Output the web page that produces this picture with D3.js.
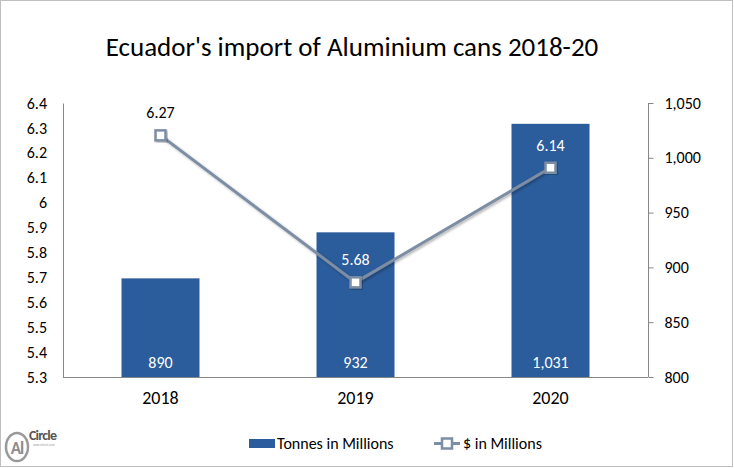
<!DOCTYPE html>
<html>
<head>
<meta charset="utf-8">
<script src="https://cdn.jsdelivr.net/npm/d3@7"></script>
<style>
  html, body { margin: 0; padding: 0; background: #fff; }
  svg { display: block; font-family: Carlito, Lato, "Open Sans", sans-serif; }
</style>
</head>
<body>
<div id="chart"></div>
<script>
// data
const years = ["2018", "2019", "2020"];
const tonnes = [890, 932, 1031];      // bars, right axis
const dollars = [6.27, 5.68, 6.14];   // line, left axis
const leftTicks = [5.3, 5.4, 5.5, 5.6, 5.7, 5.8, 5.9, 6.0, 6.1, 6.2, 6.3, 6.4];
const rightTicks = [800, 850, 900, 950, 1000, 1050];

const width = 734, height = 468;
const margin = { top: 103, right: 86, bottom: 91, left: 63 };
const barColor = "#2B5C9B";
const lineColor = "#7D8DA3";
const font = "Carlito, Lato, 'Open Sans', sans-serif";

const svg = d3.select("#chart").append("svg")
  .attr("width", width)
  .attr("height", height);

// outer border
svg.append("rect")
  .attr("x", 0.5).attr("y", 0.5)
  .attr("width", width - 2).attr("height", height - 2)
  .attr("fill", "#fff")
  .attr("stroke", "#BFBFBF");

// shadow filter for line + markers
const defs = svg.append("defs");
const f = defs.append("filter").attr("id", "shadow")
  .attr("x", "-20%").attr("y", "-20%").attr("width", "140%").attr("height", "140%");
f.append("feDropShadow").attr("dx", 1.5).attr("dy", 1.5)
  .attr("stdDeviation", 1).attr("flood-color", "#000").attr("flood-opacity", 0.3);

// title
svg.append("text")
  .attr("x", 352).attr("y", 56)
  .attr("text-anchor", "middle")
  .style("font-size", "27px")
  .style("fill", "#000")
  .text("Ecuador's import of Aluminium cans 2018-20");

// scales
const x = d3.scaleBand()
  .domain(years)
  .range([margin.left, width - margin.right])
  .paddingInner(0.6)
  .paddingOuter(0.3);

const yLeft = d3.scaleLinear()
  .domain([5.3, 6.4])
  .range([height - margin.bottom, margin.top]);

const yRight = d3.scaleLinear()
  .domain([800, 1050])
  .range([height - margin.bottom, margin.top]);

// bars
svg.selectAll("rect.bar")
  .data(years)
  .enter()
  .append("rect")
  .attr("class", "bar")
  .attr("x", d => x(d))
  .attr("y", (d, i) => yRight(tonnes[i]))
  .attr("width", x.bandwidth())
  .attr("height", (d, i) => yRight(800) - yRight(tonnes[i]))
  .attr("fill", barColor);

// bar value labels
svg.selectAll("text.bar-label")
  .data(years)
  .enter()
  .append("text")
  .attr("class", "bar-label")
  .attr("x", d => x(d) + x.bandwidth() / 2)
  .attr("y", 368)
  .attr("text-anchor", "middle")
  .style("font-size", "16px")
  .style("fill", "#fff")
  .text((d, i) => d3.format(",")(tonnes[i]));

// left axis
const leftAxis = svg.append("g")
  .attr("transform", `translate(${margin.left},0)`)
  .call(d3.axisLeft(yLeft).tickValues(leftTicks).tickSize(0).tickPadding(16)
    .tickFormat(d => d3.format("")(+d.toFixed(1))));

// right axis
const rightAxis = svg.append("g")
  .attr("transform", `translate(${width - margin.right + 0.5},0)`)
  .call(d3.axisRight(yRight).tickValues(rightTicks).tickSize(5).tickPadding(11)
    .tickFormat(d3.format(",")));

[leftAxis, rightAxis].forEach(g => {
  g.select(".domain").attr("stroke", "#868686");
  g.selectAll(".tick line").attr("stroke", "#868686");
  g.selectAll(".tick text")
    .style("font-size", "16px")
    .style("font-family", font)
    .attr("fill", "#000");
});
rightAxis.select(".domain").attr("d", `M0,${margin.top}V${height - margin.bottom}`);

// bottom axis
const bottomAxis = svg.append("g")
  .attr("transform", `translate(0,${height - margin.bottom + 0.5})`)
  .call(d3.axisBottom(x).tickSize(0).tickPadding(14));
bottomAxis.select(".domain").attr("stroke", "#868686")
  .attr("d", `M${margin.left},0H${width - margin.right}`);
bottomAxis.selectAll(".tick text")
  .style("font-size", "18px")
  .style("font-family", font)
  .attr("fill", "#000");

// line
const pts = years.map((d, i) => [x(d) + x.bandwidth() / 2, yLeft(dollars[i])]);

svg.append("path")
  .datum(pts)
  .attr("d", d3.line())
  .attr("fill", "none")
  .attr("stroke", lineColor)
  .attr("stroke-width", 3)
  .attr("filter", "url(#shadow)");

svg.selectAll("rect.marker")
  .data(pts)
  .enter()
  .append("rect")
  .attr("class", "marker")
  .attr("x", d => d[0] - 5)
  .attr("y", d => d[1] - 5)
  .attr("width", 10)
  .attr("height", 10)
  .attr("fill", "#fff")
  .attr("stroke", lineColor)
  .attr("stroke-width", 2.5)
  .attr("filter", "url(#shadow)");

// line value labels
svg.selectAll("text.line-label")
  .data(pts)
  .enter()
  .append("text")
  .attr("class", "line-label")
  .attr("x", d => d[0])
  .attr("y", d => d[1] - 17)
  .attr("text-anchor", "middle")
  .style("font-size", "16px")
  .style("fill", (d, i) => i === 0 ? "#000" : "#fff")
  .text((d, i) => d3.format(".2f")(dollars[i]));

// legend
const legend = svg.append("g");
legend.append("rect")
  .attr("x", 249).attr("y", 439)
  .attr("width", 26).attr("height", 9)
  .attr("fill", barColor);
legend.append("text")
  .attr("x", 277).attr("y", 449)
  .style("font-size", "16px")
  .text("Tonnes in Millions");
legend.append("line")
  .attr("x1", 434).attr("x2", 460)
  .attr("y1", 443.5).attr("y2", 443.5)
  .attr("stroke", lineColor).attr("stroke-width", 3);
legend.append("rect")
  .attr("x", 442).attr("y", 438.5)
  .attr("width", 10).attr("height", 10)
  .attr("fill", "#fff")
  .attr("stroke", lineColor).attr("stroke-width", 2.5);
legend.append("text")
  .attr("x", 463).attr("y", 449)
  .style("font-size", "16px")
  .text("$ in Millions");

// logo
const logo = svg.append("g").attr("fill", "#8C8C8C");
logo.append("ellipse")
  .attr("cx", 17).attr("cy", 447)
  .attr("rx", 11).attr("ry", 14)
  .attr("fill", "none")
  .attr("stroke", "#9A9A9A").attr("stroke-width", 2.5);
logo.append("text")
  .attr("x", 17).attr("y", 454)
  .attr("text-anchor", "middle")
  .style("font-size", "17px")
  .style("font-weight", "bold")
  .style("letter-spacing", "-1px")
  .text("Al");
logo.append("text")
  .attr("x", 29).attr("y", 440)
  .style("font-size", "14px")
  .style("font-weight", "bold")
  .style("fill", "#555")
  .style("letter-spacing", "-0.8px")
  .text("Circle");
logo.append("text")
  .attr("x", 33).attr("y", 446)
  .style("font-size", "3px")
  .style("fill", "#999")
  .text("www.alcircle.com");
</script>
</body>
</html>
